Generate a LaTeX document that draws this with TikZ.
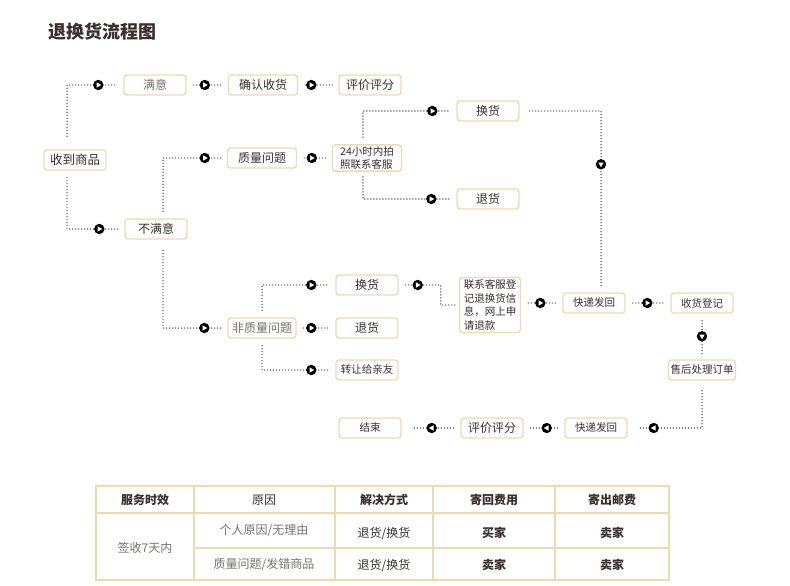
\documentclass[tikz,border=0pt]{standalone}
\usepackage{fontspec}
\setmainfont{Noto Sans CJK SC}
\usetikzlibrary{calc}
\definecolor{boxline}{HTML}{EEDAB0}
\definecolor{ink}{HTML}{3A2E2E}
\definecolor{greytxt}{HTML}{7A7070}
\definecolor{dotc}{HTML}{2A2A2A}
\tikzset{
  stepbox/.style={draw=boxline, line width=1.4pt, rounded corners=3pt, fill=white, text=ink,
    minimum width=62pt, minimum height=20pt, inner sep=2pt, font=\fontsize{12}{14}\selectfont},
  smallbox/.style={stepbox, font=\fontsize{10.5}{13}\selectfont},
  conn/.style={draw=dotc, line width=1.4pt, line cap=round, dash pattern=on 0pt off 3pt,
    shorten <=7pt, shorten >=6pt},
  playdot/.pic={\fill[black] (0,0) circle (5.2);
    \fill[white] (-1.8,-2.7) -- (2.9,0) -- (-1.8,2.7) -- cycle;},
  cell/.style={text=ink, font=\fontsize{12}{14}\selectfont},
}
\begin{document}
\begin{tikzpicture}[x=1pt, y=-1pt]
\useasboundingbox (0,0) rectangle (790,586);

% title
\node[anchor=west, text=ink, font=\fontsize{18}{20}\selectfont\bfseries] (title) at (45,32) {退换货流程图};

% flow boxes
\node[stepbox, font=\fontsize{12.5}{14}\selectfont] (recv) at (75,160) {收到商品};
\node[stepbox, text=greytxt] (sat) at (155,85) {满意};
\node[stepbox, minimum width=69pt] (confirm) at (263,85) {确认收货};
\node[stepbox] (rate) at (370,85) {评价评分};
\node[stepbox] (unsat) at (156,229) {不满意};
\node[stepbox, minimum width=69pt] (quality) at (262,158) {质量问题};
\node[smallbox, minimum width=69pt, align=left, font=\fontsize{10.5}{12.5}\selectfont] (photo) at (367,158) {24小时内拍\\照联系客服};
\node[stepbox] (swapA) at (488,111) {换货};
\node[stepbox] (backA) at (488,199) {退货};
\node[stepbox, minimum width=68pt, text=greytxt] (other) at (262,328) {非质量问题};
\node[stepbox] (swapB) at (367,285) {换货};
\node[stepbox] (backB) at (367,328) {退货};
\node[smallbox] (gift) at (367,370) {转让给亲友};
\node[smallbox, align=left, minimum width=61pt, minimum height=55pt, font=\fontsize{10.5}{13.5}\selectfont] (contact) at (490,305) {联系客服登\\记退换货信\\息，网上申\\请退款};
\node[smallbox] (expA) at (594,303) {快递发回};
\node[smallbox] (reg) at (702,303) {收货登记};
\node[smallbox, minimum width=67pt] (after) at (702,370) {售后处理订单};
\node[smallbox] (expB) at (596,428) {快递发回};
\node[stepbox] (rateB) at (492,428) {评价评分};
\node[smallbox] (finish) at (370,428) {结束};

% connectors
\draw[conn, shorten <=13pt] ([xshift=-8pt]recv.north) |- (sat.west);
\pic at ($(sat.west)+(-25,0)$) {playdot};
\draw[conn] ([xshift=-8pt]recv.south) |- (unsat.west);
\pic at ($(unsat.west)+(-25,0)$) {playdot};
\draw[conn] (sat.east) -- (confirm.west);
\pic at ($(confirm.west)+(-23,0)$) {playdot};
\draw[conn] (confirm.east) -- (rate.west);
\pic at ($(rate.west)+(-27,0)$) {playdot};
\draw[conn] ([xshift=7pt]unsat.north) |- (quality.west);
\pic at ($(quality.west)+(-22,0)$) {playdot};
\draw[conn, shorten <=11pt] ([xshift=7pt]unsat.south) |- (other.west);
\pic at ($(other.west)+(-23,0)$) {playdot};
\draw[conn] (quality.east) -- (photo.west);
\pic at ($(photo.west)+(-20,0)$) {playdot};
\draw[conn] ([xshift=-4pt]photo.north) |- (swapA.west);
\pic at ($(swapA.west)+(-24,0)$) {playdot};
\draw[conn, shorten <=5pt] ([xshift=-4pt]photo.south) |- (backA.west);
\pic at ($(backA.west)+(-25,0)$) {playdot};
\draw[conn, shorten <=10pt] (swapA.east) -| ([xshift=7pt]expA.north);
\pic[rotate=-90] at ($(expA.north)+(7,-128)$) {playdot};
\draw[conn] (other.north) |- (swapB.west);
\pic at ($(swapB.west)+(-24,0)$) {playdot};
\draw[conn] (other.east) -- (backB.west);
\pic at ($(backB.west)+(-24,0)$) {playdot};
\draw[conn] (other.south) |- (gift.west);
\pic at ($(gift.west)+(-24,0)$) {playdot};
\draw[conn, shorten >=4pt] (swapB.east) -| ([xshift=-18pt]contact.west) -- (contact.west);
\pic at ($(swapB.east)+(19,0)$) {playdot};
\draw[conn] (contact.east |- expA.west) -- (expA.west);
\pic at ($(expA.west)+(-22,0)$) {playdot};
\draw[conn] (expA.east) -- (reg.west);
\pic at ($(reg.west)+(-23,0)$) {playdot};
\draw[conn, shorten >=4pt] (reg.south) -- (after.north);
\pic[rotate=-90] at ($(after.north)+(0,-23)$) {playdot};
\draw[conn, shorten <=10pt, shorten >=11pt] (after.south) |- (expB.east);
\pic[rotate=180] at ($(expB.east)+(26,0)$) {playdot};
\draw[conn] (expB.west) -- (rateB.east);
\pic[rotate=180] at ($(rateB.east)+(23,0)$) {playdot};
\draw[conn, shorten >=12pt] (rateB.west) -- (finish.east);
\pic[rotate=180] at ($(finish.east)+(30,0)$) {playdot};

% table
\draw[boxline, line width=1.2pt] (96,486) rectangle (669,580);
\draw[boxline, line width=1.2pt] (96,513) -- (669,513);
\draw[boxline, line width=1.2pt] (194,548) -- (669,548);
\foreach \x in {194,335,433,555}
  \draw[boxline, line width=1.2pt] (\x,486) -- (\x,580);

\node[cell, font=\fontsize{12}{14}\selectfont\bfseries] (hTime) at (145,500) {服务时效};
\node[cell] (hWhy) at (264,500) {原因};
\node[cell, font=\fontsize{12}{14}\selectfont\bfseries] (hWay) at (384,500) {解决方式};
\node[cell, font=\fontsize{12}{14}\selectfont\bfseries] (hBack) at (494,500) {寄回费用};
\node[cell, font=\fontsize{12}{14}\selectfont\bfseries] (hOut) at (612,500) {寄出邮费};
\node[cell, text=greytxt] (days) at (145,548) {签收7天内};
\node[cell, text=greytxt] (why1) at (264,531) {个人原因/无理由};
\node[cell] (way1) at (384,533) {退货/换货};
\node[cell, font=\fontsize{12}{14}\selectfont\bfseries] (back1) at (494,533) {买家};
\node[cell, font=\fontsize{12}{14}\selectfont\bfseries] (out1) at (612,533) {卖家};
\node[cell, text=greytxt] (why2) at (264,565) {质量问题/发错商品};
\node[cell] (way2) at (384,565) {退货/换货};
\node[cell, font=\fontsize{12}{14}\selectfont\bfseries] (back2) at (494,565) {卖家};
\node[cell, font=\fontsize{12}{14}\selectfont\bfseries] (out2) at (612,565) {卖家};
\end{tikzpicture}
\end{document}
